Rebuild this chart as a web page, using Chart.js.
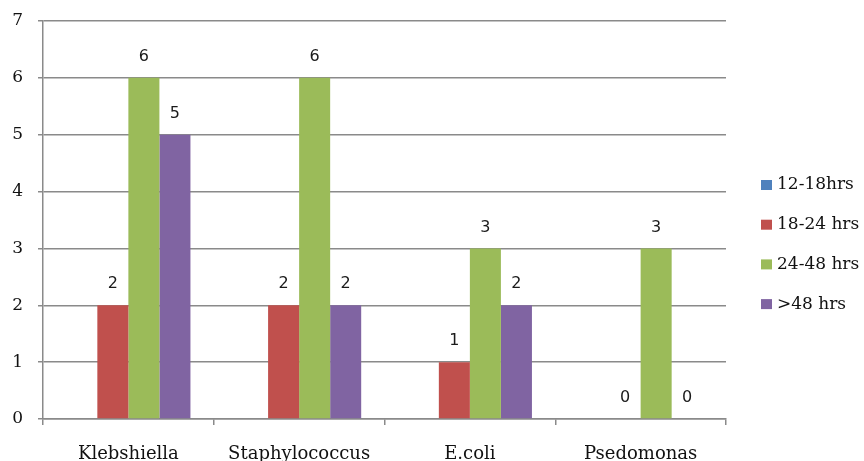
<!DOCTYPE html>
<html>
<head>
<meta charset="utf-8">
<script src="https://cdn.jsdelivr.net/npm/chart.js@4/dist/chart.umd.min.js"></script>
<style>
  html, body { margin: 0; padding: 0; background: #ffffff; }
  #wrap { width: 864px; height: 461px; }
</style>
</head>
<body>
<div id="wrap"><canvas id="c" width="864" height="461"></canvas></div>
<script>
// Organisms on the x axis
const categories = ['Klebshiella', 'Staphylococcus', 'E.coli', 'Psedomonas'];

// Counts per time window
const hrs12to18 = [null, null, null, null];
const hrs18to24 = [2, 2, 1, 0];
const hrs24to48 = [6, 6, 3, 3];
const hrsOver48 = [5, 2, 2, 0];

const seriesNames = ['12-18hrs', '18-24 hrs', '24-48 hrs', '>48 hrs'];
const seriesColors = ['#4F81BD', '#C0504D', '#9BBB59', '#8064A2'];

const yTicks = [0, 1, 2, 3, 4, 5, 6, 7];

const SERIF = '"DejaVu Serif", "Liberation Serif", serif';
const SANS = '"DejaVu Sans", "Liberation Sans", sans-serif';

// Value labels above each bar
const valueLabels = {
  id: 'valueLabels',
  afterDatasetsDraw(chart) {
    const ctx = chart.ctx;
    ctx.save();
    ctx.font = '16px ' + SANS;
    ctx.fillStyle = '#1a1a1a';
    ctx.textAlign = 'center';
    ctx.textBaseline = 'middle';
    chart.data.datasets.forEach((ds, i) => {
      const meta = chart.getDatasetMeta(i);
      meta.data.forEach((bar, j) => {
        const v = ds.data[j];
        if (v === null || v === undefined) return;
        ctx.fillText(String(v), bar.x, bar.y - 21);
      });
    });
    ctx.restore();
  }
};

// Legend column to the right of the plot
const sideLegend = {
  id: 'sideLegend',
  afterDraw(chart) {
    const ctx = chart.ctx;
    const area = chart.chartArea;
    const x0 = area.right + 35;
    const firstY = 185;
    const step = 39.7;
    ctx.save();
    ctx.font = '17px ' + SERIF;
    ctx.textBaseline = 'middle';
    ctx.textAlign = 'left';
    chart.data.datasets.forEach((ds, i) => {
      const y = firstY + i * step;
      ctx.fillStyle = ds.backgroundColor;
      ctx.fillRect(x0, y - 5, 11, 10);
      ctx.fillStyle = '#111111';
      ctx.fillText(ds.label, x0 + 16, y);
    });
    ctx.restore();
  }
};

const datasets = [hrs12to18, hrs18to24, hrs24to48, hrsOver48].map((data, i) => ({
  label: seriesNames[i],
  data: data,
  backgroundColor: seriesColors[i],
  borderWidth: 0
}));

new Chart(document.getElementById('c'), {
  type: 'bar',
  data: { labels: categories, datasets: datasets },
  options: {
    responsive: false,
    animation: false,
    layout: { padding: { top: 21, right: 138, left: 0, bottom: 0 } },
    datasets: {
      bar: { categoryPercentage: 0.727, barPercentage: 1.0 }
    },
    plugins: {
      legend: { display: false },
      tooltip: { enabled: false }
    },
    scales: {
      x: {
        offset: true,
        grid: {
          offset: true,
          drawOnChartArea: false,
          drawTicks: true,
          tickLength: 6,
          color: '#8a8a8a',
          lineWidth: 1.5
        },
        border: { display: true, color: '#8a8a8a', width: 1.5 },
        ticks: {
          color: '#111111',
          font: { family: SERIF, size: 18 },
          padding: 19,
          maxRotation: 0
        },
        afterFit(scale) {
          scale.height = 42;
          scale.paddingLeft = 0;
          scale.paddingRight = 0;
        }
      },
      y: {
        min: 0,
        max: 7,
        afterBuildTicks(scale) { scale.ticks = yTicks.map(v => ({ value: v })); },
        grid: {
          color: '#8a8a8a',
          lineWidth: 1.5,
          drawTicks: true,
          tickLength: 5
        },
        border: { display: true, color: '#8a8a8a', width: 1.5 },
        ticks: {
          color: '#111111',
          font: { family: SERIF, size: 17 },
          padding: 15
        },
        afterFit(scale) {
          scale.width = 43;
          scale.paddingTop = 0;
          scale.paddingBottom = 0;
        }
      }
    }
  },
  plugins: [valueLabels, sideLegend]
});
</script>
</body>
</html>
